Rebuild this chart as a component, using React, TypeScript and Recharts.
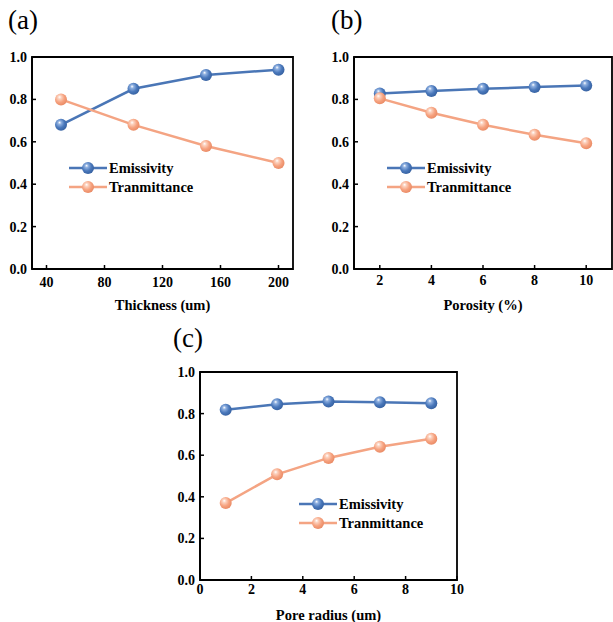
import React from 'react';
import { LineChart, Line, XAxis, YAxis, ReferenceArea, Legend } from 'recharts';

// Panel (a): thickness
const thickness = [50, 100, 150, 200];
const thicknessEmissivity = [0.68, 0.85, 0.915, 0.94];
const thicknessTransmittance = [0.8, 0.68, 0.58, 0.5];
const thicknessTicks = [40, 80, 120, 160, 200];

// Panel (b): porosity
const porosity = [2, 4, 6, 8, 10];
const porosityEmissivity = [0.828, 0.84, 0.85, 0.858, 0.866];
const porosityTransmittance = [0.805, 0.737, 0.68, 0.633, 0.593];
const porosityTicks = [2, 4, 6, 8, 10];

// Panel (c): pore radius
const poreRadius = [1, 3, 5, 7, 9];
const poreEmissivity = [0.818, 0.845, 0.858, 0.855, 0.85];
const poreTransmittance = [0.37, 0.508, 0.587, 0.641, 0.679];
const poreTicks = [0, 2, 4, 6, 8, 10];

const yTicks = [0, 0.2, 0.4, 0.6, 0.8, 1.0];

const FONT = "'Liberation Serif', 'Times New Roman', serif";
const BLUE = '#4a76b6';
const ORANGE = '#f4a483';

const build = (xs: number[], e: number[], t: number[]) =>
  xs.map((x, i) => ({ x, emissivity: e[i], transmittance: t[i] }));

const gradId = (color: string) => (color === BLUE ? 'gBlue' : 'gOrange');

const GradDefs = () => (
  <defs>
    <radialGradient id="gBlue" cx="0.4" cy="0.4" r="0.65" fx="0.38" fy="0.3">
      <stop offset="0" stopColor="#ffffff" />
      <stop offset="0.22" stopColor="#8fb0e0" />
      <stop offset="0.6" stopColor="#4a78bb" />
      <stop offset="1" stopColor="#345f9f" />
    </radialGradient>
    <radialGradient id="gOrange" cx="0.4" cy="0.4" r="0.65" fx="0.38" fy="0.3">
      <stop offset="0" stopColor="#ffffff" />
      <stop offset="0.22" stopColor="#fcd2bf" />
      <stop offset="0.6" stopColor="#f6a27f" />
      <stop offset="1" stopColor="#e88862" />
    </radialGradient>
  </defs>
);

const Sphere = ({ cx, cy, color }: { cx: number; cy: number; color: string }) => (
  <g>
    <GradDefs />
    <circle cx={cx} cy={cy} r={6} fill={`url(#${gradId(color)})`} />
  </g>
);

const makeDot = (color: string) => (props: any) => {
  const { cx, cy, index } = props;
  if (cx == null || cy == null) return <g key={index} />;
  return <Sphere key={index} cx={cx} cy={cy} color={color} />;
};

const LegendContent = () => (
  <svg width={150} height={40} style={{ overflow: 'visible', display: 'block' }}>
    {[
      { c: BLUE, label: 'Emissivity' },
      { c: ORANGE, label: 'Tranmittance' },
    ].map((it, i) => (
      <g key={it.label}>
        <line x1={0} x2={38} y1={10 + i * 19} y2={10 + i * 19} stroke={it.c} strokeWidth={2.5} />
        <Sphere cx={19} cy={10 + i * 19} color={it.c} />
        <text x={40} y={15 + i * 19} style={{ fontFamily: FONT }} fontWeight="bold" fontSize={14.5} fill="#000">
          {it.label}
        </text>
      </g>
    ))}
  </svg>
);

interface PanelProps {
  left: number;
  top: number;
  width: number;
  height: number;
  plotLeft: number;
  plotRight: number;
  plotTop: number;
  plotBottom: number;
  data: any[];
  domain: [number, number];
  xTicks: number[];
  xTitle: string;
  titleOffset: number;
  xLabelDy: number;
  legendLeft: number;
  legendTop: number;
  tag: string;
  tagLeft: number;
  tagTop: number;
}

const Panel = (p: PanelProps) => {
  const XTick = (props: any) => {
    const { x, y, payload } = props;
    return (
      <g>
        <line x1={x} x2={x} y1={y} y2={y - 4} stroke="#000" strokeWidth={1.5} />
        <text x={x} y={y + p.xLabelDy} textAnchor="middle" style={{ fontFamily: FONT }} fontWeight="bold" fontSize={14} fill="#000">
          {payload.value}
        </text>
      </g>
    );
  };
  const YTick = (props: any) => {
    const { x, y, payload } = props;
    return (
      <g>
        <line x1={x} x2={x + 4} y1={y} y2={y} stroke="#000" strokeWidth={1.5} />
        <text x={x - 5} y={y + 5} textAnchor="end" style={{ fontFamily: FONT }} fontWeight="bold" fontSize={14} fill="#000">
          {Number(payload.value).toFixed(1)}
        </text>
      </g>
    );
  };
  return (
    <div style={{ position: 'absolute', left: p.left, top: p.top, width: p.width, height: p.height }}>
      <div
        style={{
          position: 'absolute',
          left: p.tagLeft,
          top: p.tagTop,
          fontFamily: FONT,
          fontSize: 27,
          lineHeight: 1,
          color: '#000',
        }}
      >
        {p.tag}
      </div>
      <LineChart
        width={p.width}
        height={p.height}
        data={p.data}
        margin={{ top: p.plotTop, right: p.width - p.plotRight, left: 0, bottom: 0 }}
        style={{ fontFamily: FONT }}
      >
        <XAxis
          dataKey="x"
          type="number"
          domain={p.domain}
          ticks={p.xTicks}
          height={p.height - p.plotBottom}
          tickSize={0}
          tickMargin={0}
          tickLine={false}
          axisLine={{ stroke: '#000', strokeWidth: 1.8 }}
          tick={XTick}
          interval={0}
          allowDataOverflow
          label={{
            value: p.xTitle,
            position: 'insideBottom',
            offset: p.titleOffset,
            style: { fontFamily: FONT },
            fontWeight: 'bold',
            fontSize: 14.5,
            fill: '#000',
          }}
        />
        <YAxis
          type="number"
          domain={[0, 1]}
          ticks={yTicks}
          width={p.plotLeft}
          tickSize={0}
          tickMargin={0}
          tickLine={false}
          axisLine={{ stroke: '#000', strokeWidth: 1.8 }}
          tick={YTick}
          interval={0}
          allowDataOverflow
        />
        <ReferenceArea
          x1={p.domain[0]}
          x2={p.domain[1]}
          y1={0}
          y2={1}
          fill="none"
          stroke="#000"
          strokeWidth={1.8}
          ifOverflow="visible"
        />
        <Legend
          layout="vertical"
          align="center"
          verticalAlign="middle"
          content={LegendContent}
          wrapperStyle={{ left: p.legendLeft, top: p.legendTop, width: 150, height: 40 }}
        />
        <Line
          dataKey="emissivity"
          stroke={BLUE}
          strokeWidth={2.5}
          dot={makeDot(BLUE)}
          activeDot={false}
          isAnimationActive={false}
        />
        <Line
          dataKey="transmittance"
          stroke={ORANGE}
          strokeWidth={2.5}
          dot={makeDot(ORANGE)}
          activeDot={false}
          isAnimationActive={false}
        />
      </LineChart>
    </div>
  );
};

export default function App() {
  return (
    <div style={{ position: 'absolute', left: 0, top: 0, width: 613, height: 622, background: '#fff', overflow: 'hidden' }}>
      <Panel
        left={0}
        top={0}
        width={300}
        height={320}
        plotLeft={32}
        plotRight={293}
        plotTop={57}
        plotBottom={269}
        data={build(thickness, thicknessEmissivity, thicknessTransmittance)}
        domain={[30, 210]}
        xTicks={thicknessTicks}
        xTitle="Thickness (um)"
        titleOffset={10}
        xLabelDy={18}
        legendLeft={69}
        legendTop={158}
        tag="(a)"
        tagLeft={8}
        tagTop={7}
      />
      <Panel
        left={300}
        top={0}
        width={313}
        height={320}
        plotLeft={54}
        plotRight={312}
        plotTop={57}
        plotBottom={269}
        data={build(porosity, porosityEmissivity, porosityTransmittance)}
        domain={[1, 11]}
        xTicks={porosityTicks}
        xTitle="Porosity (%)"
        titleOffset={10}
        xLabelDy={16}
        legendLeft={87}
        legendTop={158}
        tag="(b)"
        tagLeft={31}
        tagTop={7}
      />
      <Panel
        left={150}
        top={320}
        width={320}
        height={302}
        plotLeft={50}
        plotRight={307}
        plotTop={52}
        plotBottom={260}
        data={build(poreRadius, poreEmissivity, poreTransmittance)}
        domain={[0, 10]}
        xTicks={poreTicks}
        xTitle="Pore radius (um)"
        titleOffset={2}
        xLabelDy={14}
        legendLeft={149}
        legendTop={174}
        tag="(c)"
        tagLeft={23}
        tagTop={5}
      />
    </div>
  );
}
